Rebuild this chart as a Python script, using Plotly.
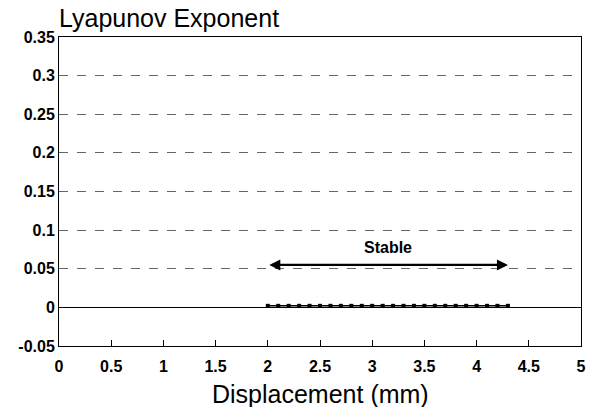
import plotly.graph_objects as go

displacement = [2.0, 2.1, 2.2, 2.3, 2.4, 2.5, 2.6, 2.7, 2.8, 2.9, 3.0, 3.1,
                3.2, 3.3, 3.4, 3.5, 3.6, 3.7, 3.8, 3.9, 4.0, 4.1, 4.2, 4.3]
lyapunov = [0.002, 0.002, 0.002, 0.002, 0.002, 0.002, 0.002, 0.002, 0.002, 0.002, 0.002, 0.002,
            0.002, 0.002, 0.002, 0.002, 0.002, 0.002, 0.002, 0.002, 0.002, 0.002, 0.002, 0.002]
x_ticks = [0, 0.5, 1, 1.5, 2, 2.5, 3, 3.5, 4, 4.5, 5]
x_tick_labels = ["0", "0.5", "1", "1.5", "2", "2.5", "3", "3.5", "4", "4.5", "5"]
y_ticks = [-0.05, 0, 0.05, 0.1, 0.15, 0.2, 0.25, 0.3, 0.35]
y_tick_labels = ["-0.05", "0", "0.05", "0.1", "0.15", "0.2", "0.25", "0.3", "0.35"]
stable_range = [2.0, 4.3]
stable_y = 0.055
stable_label = "Stable"

font = "Liberation Sans, Arial, sans-serif"

fig = go.Figure()
fig.add_trace(go.Scatter(
    x=displacement, y=lyapunov, mode="lines+markers",
    line=dict(color="black", width=1.5),
    marker=dict(symbol="square", size=4, color="black"),
    showlegend=False, cliponaxis=False, hoverinfo="skip",
))

fig.add_annotation(
    x=stable_range[1], y=stable_y, ax=stable_range[0], ay=stable_y,
    xref="x", yref="y", axref="x", ayref="y",
    showarrow=True, arrowhead=2, arrowside="end+start",
    arrowsize=1, arrowwidth=2.2, arrowcolor="black", text="",
)
fig.add_annotation(
    x=3.15, y=0.078, xref="x", yref="y",
    text="<b>" + stable_label + "</b>", showarrow=False,
    font=dict(family=font, size=16, color="black"),
)
fig.add_annotation(
    x=-0.004, y=1.062, xref="paper", yref="paper", xanchor="left", yanchor="middle",
    text="Lyapunov Exponent", showarrow=False,
    font=dict(family=font, size=25, color="black"),
)
fig.add_annotation(
    x=0.5, y=-0.155, xref="paper", yref="paper", xanchor="center", yanchor="middle",
    text="Displacement (mm)", showarrow=False,
    font=dict(family=font, size=25, color="black"),
)

fig.update_layout(
    width=590, height=407,
    margin=dict(l=59, r=9, t=37, b=61, autoexpand=False),
    paper_bgcolor="white", plot_bgcolor="white",
    font=dict(family=font, color="black"),
)
fig.update_xaxes(
    range=[0, 5], tickvals=x_ticks, ticktext=["<b>%s</b>" % t for t in x_tick_labels],
    tickfont=dict(family=font, size=16, color="black"),
    ticks="inside", ticklen=6, tickcolor="black", tickwidth=1,
    ticklabelstandoff=6,
    showgrid=False, zeroline=False, automargin=False, ticklabeloverflow="allow",
    showline=True, linecolor="black", linewidth=1, mirror=True,
)
fig.update_yaxes(
    range=[-0.05, 0.35], tickvals=y_ticks, ticktext=["<b>%s</b>" % t for t in y_tick_labels],
    tickfont=dict(family=font, size=16, color="black"),
    ticks="", showgrid=True, gridcolor="#666", gridwidth=1, griddash="dash",
    zeroline=True, zerolinecolor="black", zerolinewidth=1, automargin=False,
    showline=True, linecolor="black", linewidth=1, mirror=True,
)

fig.write_html("out.html", config={"displayModeBar": False},
               post_script="document.body.style.margin='0px';")
